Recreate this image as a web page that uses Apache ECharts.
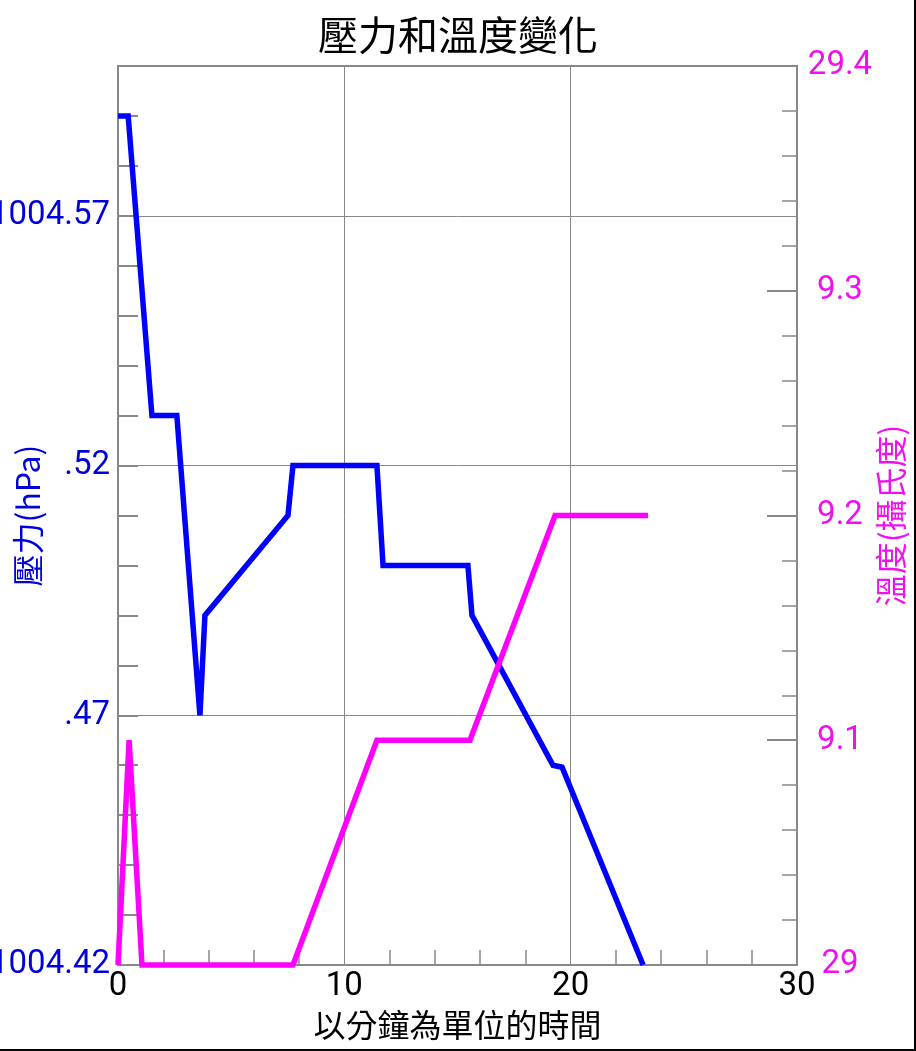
<!DOCTYPE html>
<html>
<head>
<meta charset="utf-8">
<script src="https://cdn.jsdelivr.net/npm/echarts@6/dist/echarts.min.js"></script>
<style>
html,body{margin:0;padding:0;background:#fff;}
#c{width:916px;height:1051px;}
</style>
</head>
<body>
<div id="c"></div>
<script>
// ---- data ----
const timePressure = [0, 0.45, 1.5, 2.6, 3.62, 3.84, 7.51, 7.73, 11.44, 11.71, 15.46, 15.64, 19.22, 19.62, 23.2];
const pressure = [1004.59, 1004.59, 1004.53, 1004.53, 1004.47, 1004.49, 1004.51, 1004.52, 1004.52, 1004.50, 1004.50, 1004.49, 1004.46, 1004.4596, 1004.42];
const timeTemp = [0, 0.49, 1.06, 7.73, 11.44, 15.55, 19.31, 23.42];
const temperature = [29.0, 29.1, 29.0, 29.0, 29.1, 29.1, 29.2, 29.2];
const pressureTickValues = ['1004.42', '1004.47', '1004.52', '1004.57'];
const pressureTickLabels = ['1004.42', '.47', '.52', '1004.57'];
const tempTickValues = ['29.0', '29.1', '29.2', '29.3', '29.4'];
const tempTickLabels = ['29', '9.1', '9.2', '9.3', '29.4'];
const xTickLabels = ['0', '10', '20', '30'];

const titleText = '壓力和溫度變化';
const xName = '以分鐘為單位的時間';
const leftName = '壓力(hPa)';
const rightName = '溫度(攝氏度)';

const FONT = 'Roboto, "Noto Sans CJK TC", sans-serif';
const CJK = '"Noto Sans CJK TC", Roboto, sans-serif';
const GREY = '#888888';
const BLUE = '#0000ff';
const MAG = '#ff00ff';

const chart = echarts.init(document.getElementById('c'), null, {renderer: 'canvas'});
chart.setOption({
  animation: false,
  backgroundColor: '#ffffff',
  title: {
    text: titleText, left: 'center', top: 10,
    textStyle: {fontFamily: CJK, fontSize: 40, fontWeight: 'normal', color: '#000'}
  },
  grid: {left: 118, right: 119, top: 66, bottom: 86, show: true, borderColor: GREY, borderWidth: 2, containLabel: false, outerBoundsMode: 'none'},
  xAxis: {
    type: 'value', min: 0, max: 30, interval: 10,
    name: xName, nameLocation: 'middle', nameGap: 44, nameMoveOverlap: false,
    nameTextStyle: {fontFamily: CJK, fontSize: 32, color: '#000'},
    axisLine: {show: true, lineStyle: {color: GREY, width: 2}},
    axisTick: {show: false, inside: true},
    minorTick: {show: true, splitNumber: 5, length: 15, lineStyle: {color: GREY, width: 1.5}},
    splitLine: {show: true, lineStyle: {color: GREY, width: 1}},
    axisLabel: {
      margin: 5, fontFamily: FONT, fontSize: 33, color: '#000',
      formatter: v => xTickLabels[Math.round(v / 10)] || ''
    }
  },
  yAxis: [
    {
      type: 'value', position: 'left', min: 1004.42, max: 1004.60, interval: 0.01,
      name: leftName, nameLocation: 'middle', nameRotate: 90, nameGap: 74, nameMoveOverlap: false,
      nameTextStyle: {fontFamily: CJK, fontSize: 32, color: '#0000dd'},
      axisLine: {show: true, lineStyle: {color: GREY, width: 2}},
      axisTick: {show: true, inside: true, length: 20, interval: 0, lineStyle: {color: GREY, width: 2}},
      splitLine: {show: true, interval: 0, lineStyle: {color: [GREY, 'rgba(0,0,0,0)', 'rgba(0,0,0,0)', 'rgba(0,0,0,0)', 'rgba(0,0,0,0)'], width: 1}},
      axisLabel: {
        interval: 0, margin: 8, fontFamily: FONT, fontSize: 33, color: '#0000dd', padding: [6, 0, 0, 0],
        formatter: v => {
          const i = pressureTickValues.indexOf(v.toFixed(2));
          return i >= 0 ? pressureTickLabels[i] : '';
        }
      }
    },
    {
      type: 'value', position: 'right', min: 29.0, max: 29.4, interval: 0.1,
      name: rightName, nameLocation: 'middle', nameRotate: 90, nameGap: 78, nameMoveOverlap: false,
      nameTextStyle: {fontFamily: CJK, fontSize: 32, color: '#ee11ee'},
      axisLine: {show: true, lineStyle: {color: GREY, width: 2}},
      axisTick: {show: true, inside: true, length: 30, lineStyle: {color: GREY, width: 2}},
      minorTick: {show: true, splitNumber: 5, length: 15, lineStyle: {color: GREY, width: 1.5}},
      splitLine: {show: false},
      axisLabel: {
        margin: 43, align: 'center', fontFamily: FONT, fontSize: 33, color: '#ee11ee', padding: [6, 0, 0, 0],
        formatter: v => {
          const i = tempTickValues.indexOf(v.toFixed(1));
          return i >= 0 ? tempTickLabels[i] : '';
        }
      }
    }
  ],
  series: [
    {
      type: 'line', yAxisIndex: 0, symbol: 'none', clip: false,
      data: timePressure.map((t, i) => [t, pressure[i]]),
      lineStyle: {color: BLUE, width: 5.5, join: 'miter'}
    },
    {
      type: 'line', yAxisIndex: 1, symbol: 'none', clip: false,
      data: timeTemp.map((t, i) => [t, temperature[i]]),
      lineStyle: {color: MAG, width: 5.5, join: 'miter'}
    }
  ],
  graphic: [
    {type: 'line', shape: {x1: 915, y1: 0, x2: 915, y2: 1051}, style: {stroke: '#000', lineWidth: 2}, silent: true},
    {type: 'line', shape: {x1: 0, y1: 1050, x2: 916, y2: 1050}, style: {stroke: '#000', lineWidth: 2}, silent: true}
  ]
});
</script>
</body>
</html>
